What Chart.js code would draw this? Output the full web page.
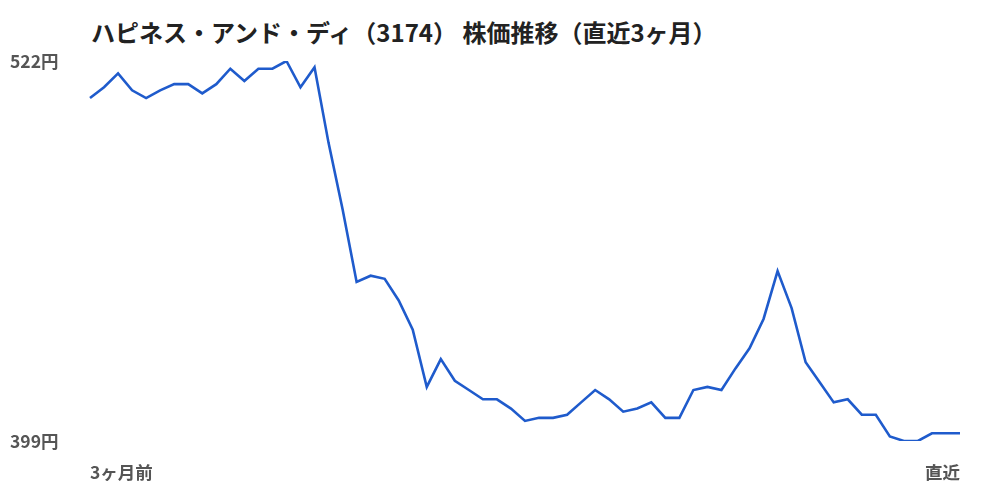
<!DOCTYPE html>
<html lang="ja">
<head>
<meta charset="utf-8">
<script src="https://cdn.jsdelivr.net/npm/chart.js@4.4.1/dist/chart.umd.min.js"></script>
<style>
  html, body { margin: 0; padding: 0; background: #fff; }
  #wrap { position: relative; width: 1000px; height: 500px; }
  #title {
    position: absolute; left: 91px; top: 14px; margin: 0;
    font: bold 24px "Noto Sans CJK JP", sans-serif; color: #222;
    white-space: nowrap;
  }
  canvas { position: absolute; left: 0; top: 0; }
</style>
</head>
<body>
<div id="wrap">
  <h1 id="title">ハピネス・アンド・ディ（3174） 株価推移（直近3ヶ月）</h1>
  <canvas id="chart" width="1000" height="500"></canvas>
</div>
<script>
// ── data ──
const prices = [
  510, 513.5, 518, 512.5, 510, 512.5, 514.5, 514.5, 511.5, 514.5,
  519.5, 515.5, 519.5, 519.5, 522, 513.5, 520, 495.5, 474, 450.5,
  452.5, 451.5, 444.5, 435, 416.5, 425.5, 418.5, 415.5, 412.5, 412.5,
  409.5, 405.5, 406.5, 406.5, 407.5, 411.5, 415.5, 412.5, 408.5, 409.5,
  411.5, 406.5, 406.5, 415.5, 416.5, 415.5, 422.5, 429, 438.5, 454,
  442, 424.5, 418, 411.5, 412.5, 407.5, 407.5, 400.5, 399, 399,
  401.5, 401.5, 401.5
];
const yMin = 399;
const yMax = 522;
const startLabel = '3ヶ月前';
const endLabel = '直近';

const days = prices.map((_, i) => i);
const labelFont = { family: '"Noto Sans CJK JP", sans-serif', size: 17.5, weight: 'bold' };
const labelColor = '#555';

new Chart(document.getElementById('chart'), {
  type: 'line',
  data: {
    labels: days,
    datasets: [{
      data: prices,
      borderColor: '#1f5bcc',
      borderWidth: 2.6,
      pointRadius: 0,
      tension: 0,
      fill: false
    }]
  },
  options: {
    responsive: false,
    animation: false,
    layout: { padding: { left: 10, right: 40, top: 61, bottom: 19 } },
    plugins: {
      legend: { display: false },
      tooltip: { enabled: false }
    },
    scales: {
      x: {
        offset: false,
        grid: { display: false, drawTicks: false },
        border: { display: false },
        afterFit: scale => { scale.height = 40; },
        ticks: {
          autoSkip: false,
          maxRotation: 0,
          align: 'inner',
          padding: 21,
          color: labelColor,
          font: labelFont,
          callback: (v, i) => i === 0 ? startLabel : (i === days.length - 1 ? endLabel : null)
        }
      },
      y: {
        min: yMin,
        max: yMax,
        grid: { display: false },
        border: { display: false },
        afterBuildTicks: scale => { scale.ticks = [{ value: yMin }, { value: yMax }]; },
        afterFit: scale => { scale.width = 80; },
        ticks: {
          crossAlign: 'far',
          color: labelColor,
          font: labelFont,
          callback: v => v + '円'
        }
      }
    }
  }
});
</script>
</body>
</html>
